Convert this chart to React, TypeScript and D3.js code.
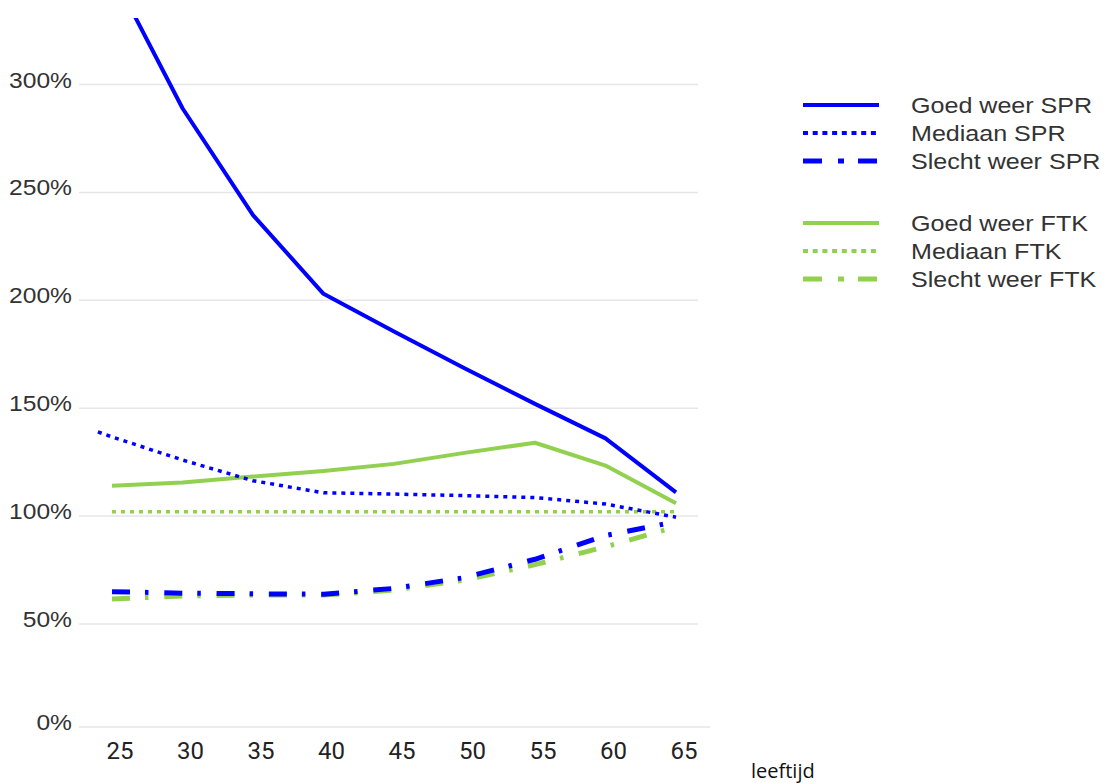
import React from "react";
import * as d3 from "d3";

const ages = [25, 30, 35, 40, 45, 50, 55, 60, 65];
const agesMedianSPR = [24, 25, 30, 35, 40, 45, 50, 55, 60, 65];
const goedSPR = [352, 289, 239.5, 203, 185.5, 168.5, 152, 136, 111];
const medianSPR = [139, 136.7, 126, 116.4, 110.8, 110.2, 109.5, 108.6, 105.6, 99.5];
const slechtSPR = [65, 64.3, 64, 63.8, 66.5, 71.5, 80, 91, 97.4];
const goedFTK = [114.1, 115.6, 118.3, 120.9, 124.2, 129.3, 134, 123.4, 106];
const medianFTK = [102, 102, 102, 102, 102, 102, 102, 102, 102];
const slechtFTK = [61.6, 63, 63.4, 63.4, 65.7, 70.4, 77.5, 85.8, 95];
const yTicks = [0, 50, 100, 150, 200, 250, 300];
const xTicks = [25, 30, 35, 40, 45, 50, 55, 60, 65];
const legendSPR = ["Goed weer SPR", "Mediaan SPR", "Slecht weer SPR"];
const legendFTK = ["Goed weer FTK", "Mediaan FTK", "Slecht weer FTK"];

const BLUE = "#0000ff";
const GREEN = "#92d050";

export default function App() {
  const W = 1108, H = 783;
  const x = d3.scaleLinear().domain([25, 65]).range([112, 676]);
  const y = d3.scaleLinear().domain([0, 50, 300]).range([727, 624, 84.5]);
  const line = (xs: number[], vs: number[]) =>
    d3.line<number>().x((_, i) => x(xs[i])).y((v) => y(v))(vs) || "";

  type S = { xs: number[]; vs: number[]; color: string; dash?: string; w: number };
  const series: S[] = [
    { xs: ages, vs: goedFTK, color: GREEN, w: 4 },
    { xs: ages, vs: medianFTK, color: GREEN, dash: "4 5", w: 3.5 },
    { xs: ages, vs: slechtFTK, color: GREEN, dash: "18 15 3.5 15.8", w: 5 },
    { xs: ages, vs: goedSPR, color: BLUE, w: 4 },
    { xs: agesMedianSPR, vs: medianSPR, color: BLUE, dash: "4 5", w: 3.5 },
    { xs: ages, vs: slechtSPR, color: BLUE, dash: "18 15 3.5 15.8", w: 5 },
  ];

  const legendDash = [undefined, "5 4.7", "19 16 6 14"];
  const rowsSPR = [105, 133, 161];
  const rowsFTK = [223, 251, 279];
  const fontY = "'Liberation Sans', Arial, sans-serif";

  return (
    <svg width={W} height={H} style={{ position: "absolute", left: 0, top: 0, background: "#fff" }}>
      <defs>
        <clipPath id="plotclip">
          <rect x={0} y={18} width={W} height={H} />
        </clipPath>
      </defs>
      {yTicks.map((t) => (
        <g key={t}>
          <line x1={79} x2={t === 0 ? 710 : 698} y1={y(t)} y2={y(t)} stroke="#e6e6e6" strokeWidth={1.5} />
          <g transform={`translate(72,${y(t) + 3}) scale(1.12,1)`}>
            <text x={0} y={0} textAnchor="end" fontSize={22} fontFamily={fontY} fill="#333">
              {t}%
            </text>
          </g>
        </g>
      ))}
      {xTicks.map((t) => (
        <text key={t} x={x(t) + 8} y={759} textAnchor="middle" fontSize={24} fontFamily="Roboto, sans-serif" fill="#222">
          {t}
        </text>
      ))}
      <text x={751} y={778} fontSize={20} fontFamily="'Open Sans', sans-serif" fill="#111">
        leeftijd
      </text>
      <g clipPath="url(#plotclip)">
        {series.map((s, i) => (
          <path key={i} d={line(s.xs, s.vs)} fill="none" stroke={s.color} strokeWidth={s.w}
            strokeDasharray={s.dash} strokeLinejoin="round" />
        ))}
      </g>
      {[{ rows: rowsSPR, labels: legendSPR, color: BLUE }, { rows: rowsFTK, labels: legendFTK, color: GREEN }].map((grp, gi) => (
        <g key={gi}>
          {grp.rows.map((ry, i) => (
            <g key={i}>
              <line x1={803} x2={879} y1={ry} y2={ry} stroke={grp.color} strokeWidth={i === 0 ? 4 : i === 1 ? 4 : 5}
                strokeDasharray={legendDash[i]} />
              <g transform={`translate(911,${ry + 8}) scale(1.14,1)`}>
                <text x={0} y={0} fontSize={22} fontFamily={fontY} fill="#333">
                  {grp.labels[i]}
                </text>
              </g>
            </g>
          ))}
        </g>
      ))}
    </svg>
  );
}
